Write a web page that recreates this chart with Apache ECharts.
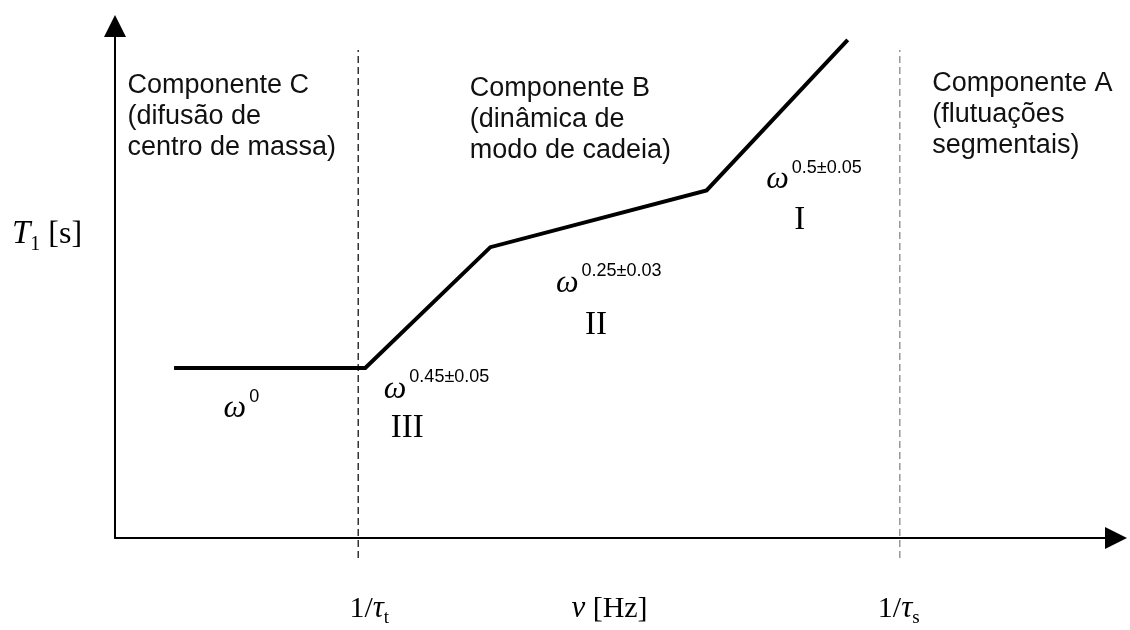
<!DOCTYPE html>
<html>
<head>
<meta charset="utf-8">
<title>T1 vs frequência</title>
<script src="https://cdn.jsdelivr.net/npm/echarts@6/dist/echarts.min.js"></script>
<style>
  html, body { margin: 0; padding: 0; background: #fff; }
  #chart { width: 1130px; height: 630px; }
</style>
</head>
<body>
<div id="chart"></div>
<script>
// Piecewise dispersion profile of T1 (arbitrary log units on both axes)
const segX = [5.9, 25.0, 37.5, 59.1, 73.2];
const segY = [33.2, 33.2, 56.8, 67.9, 97.3];

// Crossover frequencies 1/τt and 1/τs, and the vertical span of their guides
const dividerX = [24.3, 78.4];
const dividerSpan = [-3.9, 95.3];

// Labels under the frequency axis
const xTickPos = [25.4, 49.4, 78.3];
const xTickText = ['{n|1/}{i|τ}{sub|t}', '{i|ν}{n| [Hz]}', '{n|1/}{i|τ}{sub|s}'];

// Regime descriptions
const regionText = [
  'Componente C\n(difusão de\ncentro de massa)',
  'Componente B\n(dinâmica de\nmodo de cadeia)',
  'Componente A\n(flutuações\nsegmentais)'
];
const regionPos = [[1.3, 91.3], [35.5, 90.8], [81.7, 91.6]];

// Power-law exponents of each segment
const slopeText = ['0', '0.45±0.05', '0.25±0.03', '0.5±0.05'];
const slopePos = [[10.9, 29.6], [26.9, 33.4], [44.1, 54.1], [65.1, 74.4]];

// Regime numbering
const romanText = ['III', 'II', 'I'];
const romanPos = [[27.6, 24.5], [47.0, 44.6], [67.9, 65.1]];

const serif = 'Liberation Serif, DejaVu Serif, serif';
const sans = 'Liberation Sans, Arial, sans-serif';
const ink = '#000';
const dividerColor = ['#333', '#999'];

const axisRich = {
  n: { fontFamily: serif, fontSize: 30, lineHeight: 38, color: ink },
  i: { fontFamily: serif, fontStyle: 'italic', fontSize: 31, lineHeight: 38, color: ink },
  sub: { fontFamily: serif, fontSize: 19, lineHeight: 19, verticalAlign: 'bottom', color: ink }
};

const chart = echarts.init(document.getElementById('chart'), null, { renderer: 'canvas' });

const textSeries = (name, pos, formatter, labelStyle) => ({
  type: 'scatter',
  name: name,
  data: pos.map(p => p.slice()),
  symbolSize: 1,
  itemStyle: { color: 'transparent', opacity: 1 },
  silent: true,
  clip: false,
  z: 5,
  label: Object.assign({
    show: true,
    opacity: 1,
    position: [0, 0],
    align: 'left',
    verticalAlign: 'top',
    formatter: p => formatter(p.dataIndex)
  }, labelStyle)
});

chart.setOption({
  animation: false,
  grid: { left: 115, right: 14, top: 26, bottom: 92 },
  xAxis: {
    type: 'value',
    min: 0,
    max: 100,
    splitLine: { show: false },
    axisTick: { show: false },
    axisLine: {
      show: true,
      symbol: ['none', 'triangle'],
      symbolSize: [22, 22],
      lineStyle: { color: '#000', width: 2 }
    },
    axisLabel: {
      show: true,
      customValues: xTickPos,
      margin: 52,
      formatter: v => {
        const k = xTickPos.indexOf(v);
        return k >= 0 ? xTickText[k] : '';
      },
      rich: axisRich
    }
  },
  yAxis: {
    type: 'value',
    min: 0,
    max: 100,
    splitLine: { show: false },
    axisTick: { show: false },
    axisLabel: { show: false },
    axisLine: {
      show: true,
      symbol: ['none', 'triangle'],
      symbolSize: [22, 22],
      lineStyle: { color: '#000', width: 2 }
    }
  },
  graphic: [{
    type: 'text',
    left: 12,
    top: 218,
    z: 10,
    style: {
      text: '{i|T}{sub|1}{n| [s]}',
      rich: {
        n: { fontFamily: serif, fontSize: 32, lineHeight: 40, color: ink },
        i: { fontFamily: serif, fontStyle: 'italic', fontSize: 33, lineHeight: 40, color: ink },
        sub: { fontFamily: serif, fontSize: 20, lineHeight: 20, verticalAlign: 'bottom', color: ink }
      }
    }
  }],
  series: [
    {
      // dashed guides at the crossover frequencies, running slightly below the axis
      type: 'custom',
      name: 'crossovers',
      data: dividerX.map(x => [x, dividerSpan[0], dividerSpan[1]]),
      silent: true,
      clip: false,
      z: 1,
      renderItem: (params, api) => {
        const p0 = api.coord([api.value(0), api.value(1)]);
        const p1 = api.coord([api.value(0), api.value(2)]);
        return {
          type: 'line',
          shape: { x1: p0[0], y1: p0[1], x2: p1[0], y2: p1[1] },
          style: {
            stroke: dividerColor[params.dataIndex],
            lineWidth: 1.5,
            lineDash: [7, 4]
          }
        };
      }
    },
    {
      type: 'line',
      name: 'T1',
      data: segX.map((x, k) => [x, segY[k]]),
      symbol: 'none',
      lineStyle: { color: '#000', width: 4, join: 'miter' },
      z: 3
    },
    textSeries('regions', regionPos, k => regionText[k], {
      fontFamily: sans, fontSize: 27, lineHeight: 31, color: '#111'
    }),
    textSeries('slopes', slopePos, k => '{w|ω}{p|' + slopeText[k] + '}', {
      rich: {
        w: { fontFamily: serif, fontStyle: 'italic', fontSize: 32, lineHeight: 46, color: ink },
        p: { fontFamily: sans, fontSize: 18, lineHeight: 18, verticalAlign: 'top', padding: [2, 0, 0, 3], color: ink }
      }
    }),
    textSeries('regimes', romanPos, k => romanText[k], {
      fontFamily: serif, fontSize: 33, lineHeight: 33, color: ink
    })
  ]
});
</script>
</body>
</html>
